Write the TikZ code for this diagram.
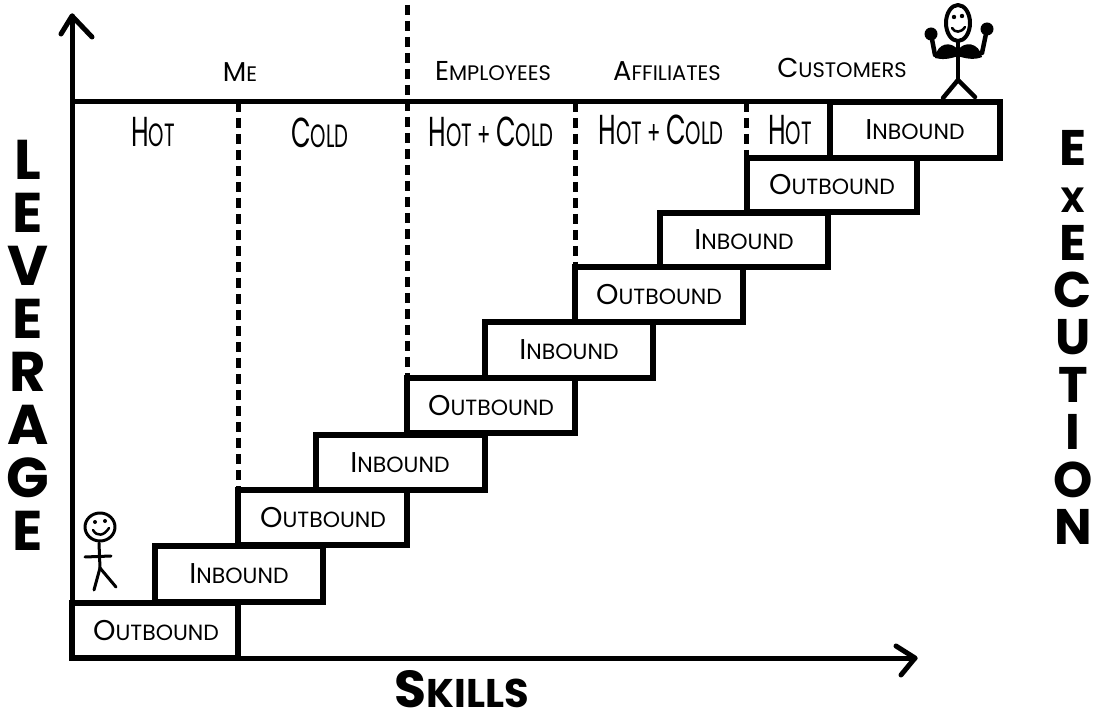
\documentclass[tikz,border=0pt]{standalone}
\usepackage{fontspec}
\usepackage{graphicx}
\setmainfont{Poppins}
% enlarged first letter, as in hand-lettered small caps
\newcommand\up[1]{\scalebox{1.3}{#1}}
% condensed, tall lettering for the channel cells
\newcommand\narrow[1]{\scalebox{0.7}[1.15]{#1}}
\begin{document}
\begin{tikzpicture}[x=1pt,y=-1pt,
  axis/.style={line width=5pt, line cap=round, line join=round},
  stepbox/.style={line width=5.5pt, line join=miter},
  divider/.style={line width=5pt, dash pattern=on 10pt off 6pt},
  boxlabel/.style={font=\fontsize{22}{22}\selectfont, inner sep=0pt},
  grouplabel/.style={font=\fontsize{21}{21}\selectfont, inner sep=0pt},
  celllabel/.style={font=\fontsize{28}{28}\selectfont, inner sep=0pt},
  bigword/.style={font=\bfseries, inner sep=0pt, align=center},
  stick/.style={line width=3pt, line cap=round, line join=round},
  strong/.style={line width=4.5pt, line cap=round, line join=round},
]
\useasboundingbox (0,0) rectangle (1096,719);

% axes
\coordinate (origin) at (72,658);
\coordinate (ytip) at (72,16);
\coordinate (xtip) at (915,658);
\coordinate (ywingL) at (61,34);
\coordinate (ywingR) at (92,37);
\coordinate (xwingU) at (896,646);
\coordinate (xwingD) at (901,675);
\draw[axis] (origin) -- (ytip);
\draw[axis] (origin) -- (xtip);
\draw[axis] (ywingL) -- (ytip) -- (ywingR);
\draw[axis] (xwingU) -- (xtip) -- (xwingD);

% header rule
\coordinate (topL) at (72,102);
\coordinate (topR) at (830,102);
\draw[line width=5pt] (topL) -- (topR);

% dashed dividers between groups and channels
\coordinate (d1t) at (238,102);  \coordinate (d1b) at (238,490);
\coordinate (d2t) at (407,5);    \coordinate (d2b) at (407,378);
\coordinate (d3t) at (575,102);  \coordinate (d3b) at (575,267);
\coordinate (d4t) at (746,102);  \coordinate (d4b) at (746,158);
\draw[divider] (d1t) -- (d1b);
\draw[divider] (d2t) -- (d2b);
\draw[divider] (d3t) -- (d3b);
\draw[divider] (d4t) -- (d4b);

% staircase of steps
\draw[stepbox] (72,603) rectangle (238,658);
\draw[stepbox] (155,546) rectangle (323,602);
\draw[stepbox] (238,490) rectangle (407,545);
\draw[stepbox] (316,435) rectangle (485,490);
\draw[stepbox] (407,378) rectangle (575,433);
\draw[stepbox] (485,322) rectangle (653,378);
\draw[stepbox] (575,267) rectangle (743,322);
\draw[stepbox] (660,213) rectangle (828,267);
\draw[stepbox] (747,158) rectangle (917,212);
\draw[stepbox] (830,102) rectangle (1000,158);

\node[boxlabel] (s1) at (156,631) {\up{O}UTBOUND};
\node[boxlabel] (s2) at (239,574) {\up{I}NBOUND};
\node[boxlabel] (s3) at (323,518) {\up{O}UTBOUND};
\node[boxlabel] (s4) at (400,463) {\up{I}NBOUND};
\node[boxlabel] (s5) at (491,406) {\up{O}UTBOUND};
\node[boxlabel] (s6) at (569,350) {\up{I}NBOUND};
\node[boxlabel] (s7) at (659,295) {\up{O}UTBOUND};
\node[boxlabel] (s8) at (744,240) {\up{I}NBOUND};
\node[boxlabel] (s9) at (832,185) {\up{O}UTBOUND};
\node[boxlabel] (s10) at (915,130) {\up{I}NBOUND};

% group headings
\node[grouplabel] (me) at (240,72) {\up{M}E};
\node[grouplabel] (emp) at (493,71) {\up{E}MPLOYEES};
\node[grouplabel] (aff) at (667,71) {\up{A}FFILIATES};
\node[grouplabel] (cus) at (842,68) {\up{C}USTOMERS};

% channel cells
\node[celllabel] (c1) at (153,132) {\narrow{\up{H}OT}};
\node[celllabel] (c2) at (320,133) {\narrow{\up{C}OLD}};
\node[celllabel] (c3) at (491,132) {\narrow{\up{H}OT + \up{C}OLD}};
\node[celllabel] (c4) at (661,130) {\narrow{\up{H}OT + \up{C}OLD}};
\node[celllabel] (c5) at (790,130) {\narrow{\up{H}OT}};

% axis titles
\node[bigword, anchor=north, font=\bfseries\fontsize{56}{53}\selectfont] (lev) at (28,140)
  {L\\E\\V\\E\\R\\A\\G\\E};
\node[bigword, anchor=north, font=\bfseries\fontsize{50}{47.4}\selectfont] (exe) at (1073,130)
  {E\\\scalebox{0.7}{X}\\E\\C\\U\\T\\I\\O\\N};
\node[bigword, font=\bfseries\fontsize{40}{40}\selectfont] (skills) at (462,689) {\up{S}KILLS};

% small figure at the bottom step
\draw[stick] (100,527) ellipse [x radius=15pt, y radius=14pt];
\fill (95,522) circle (2pt);
\fill (105,521) circle (2pt);
\draw[stick, line width=2.5pt] (93,530) .. controls (97,537) and (104,536) .. (109,528);
\draw[stick] (99,543) -- (100,568);
\draw[stick] (85,557) -- (111,556);
\draw[stick] (100,568) -- (94,590);
\draw[stick] (100,568) -- (116,587);

% strong figure on the top step
\draw[strong, line width=4pt] (958,23) ellipse [x radius=12pt, y radius=18pt];
\fill (954,17) circle (2.2pt);
\fill (962,16) circle (2.2pt);
\draw[stick, line width=2.5pt] (952,28) .. controls (955,33) and (961,33) .. (965,27);
\draw[strong] (958,42) -- (958,80);
\draw[strong] (958,80) -- (943,98);
\draw[strong] (958,80) -- (975,97);
\fill (931,34) circle (6.5pt);
\fill (987,29) circle (6.5pt);
\draw[strong] (931,34) -- (935,55);
\draw[strong] (987,29) -- (982,53);
\fill (935,58) .. controls (937,42) and (952,41) .. (958,50) -- (958,56)
  .. controls (950,59) and (942,60) .. cycle;
\fill (982,57) .. controls (979,42) and (964,41) .. (958,50) -- (958,56)
  .. controls (966,59) and (975,60) .. cycle;
\end{tikzpicture}
\end{document}
